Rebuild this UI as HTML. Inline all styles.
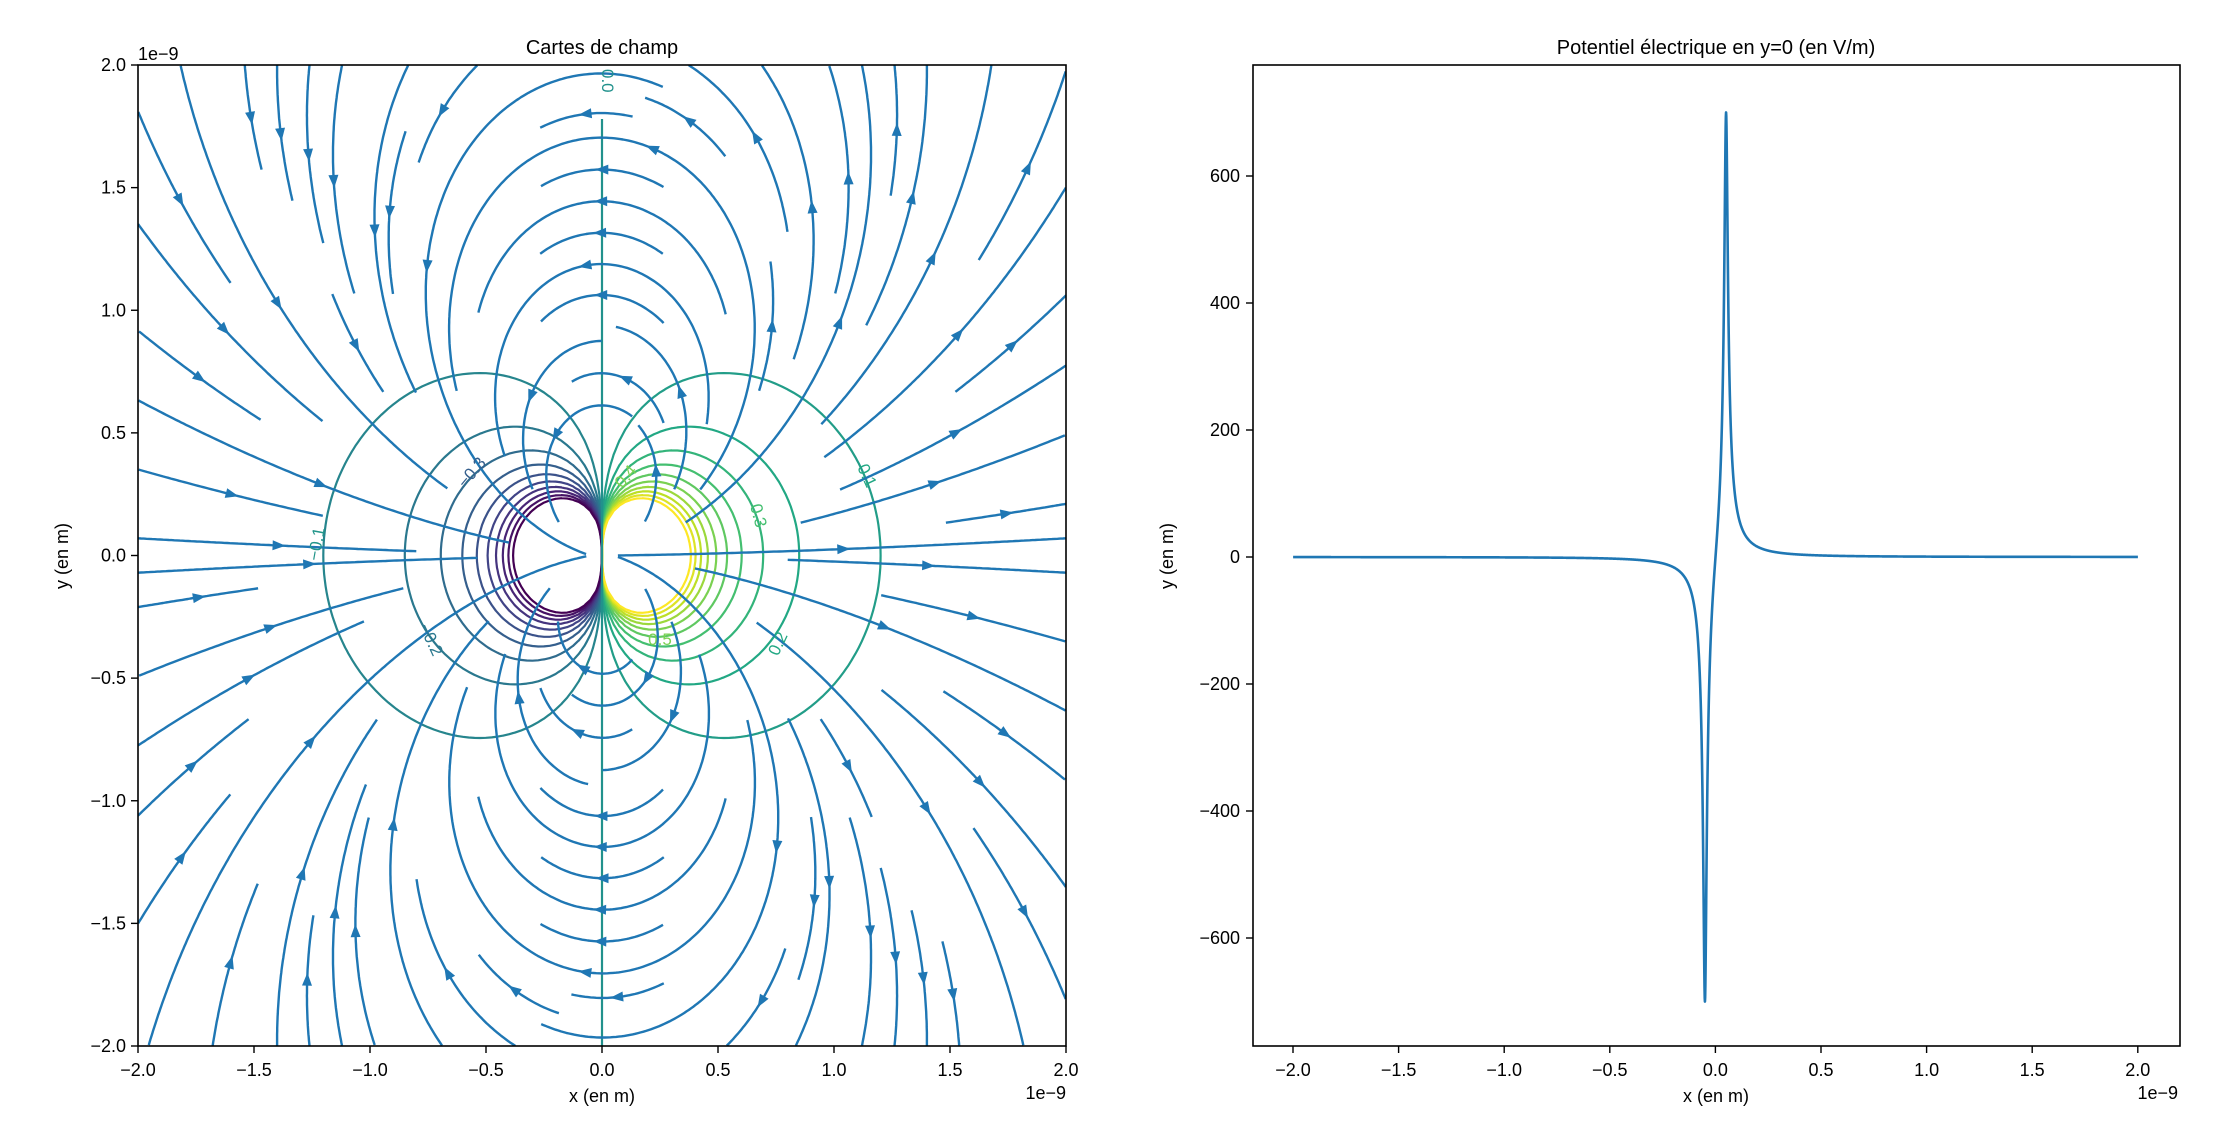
<!DOCTYPE html>
<html><head><meta charset="utf-8">
<style>
html,body{margin:0;padding:0;background:#fff;}
svg{display:block;font-family:"Liberation Sans","DejaVu Sans",sans-serif;}
</style></head>
<body>
<svg id="s" width="2237" height="1141" viewBox="0 0 2237 1141" xmlns="http://www.w3.org/2000/svg">
<rect width="2237" height="1141" fill="#fff"/>
<defs><clipPath id="c1"><rect x="138" y="65" width="928" height="981"/></clipPath>
<clipPath id="c2"><rect x="1253" y="65" width="927" height="981"/></clipPath></defs>
<g id="cont" clip-path="url(#c1)"></g>
<g id="strm" clip-path="url(#c1)"></g>
<g id="clab" font-size="17" fill="#22958a">
<text transform="translate(602,69) rotate(90)" font-size="17" fill="#21918c">0.0</text>
<text transform="translate(322,545) rotate(-80)" text-anchor="middle">−0.1</text>
<text transform="translate(862,478) rotate(65)" text-anchor="middle" fill="#22a884">0.1</text>
<text transform="translate(783,646) rotate(-65)" text-anchor="middle" fill="#22a884">0.2</text>
<text transform="translate(426,642) rotate(65)" text-anchor="middle" fill="#2a788e">−0.2</text>
<text transform="translate(476,476) rotate(-50)" text-anchor="middle" fill="#355f8d">−0.3</text>
<text transform="translate(753,517) rotate(75)" text-anchor="middle" fill="#44bf70">0.3</text>
<text transform="translate(630,480) rotate(-50)" text-anchor="middle" fill="#7ad151">0.4</text>
<text x="660" y="645" text-anchor="middle" fill="#7ad151">0.5</text>
</g>
<rect x="138" y="65" width="928" height="981" fill="none" stroke="#000" stroke-width="1.6"/>
<g id="ax1" font-size="18" fill="#000"></g>
<text x="602" y="54" font-size="20" text-anchor="middle">Cartes de champ</text>
<text x="602" y="1102" font-size="18" text-anchor="middle">x (en m)</text>
<text x="1066" y="1099" font-size="18" text-anchor="end">1e−9</text>
<text x="138" y="60" font-size="18">1e−9</text>
<text transform="translate(68,556) rotate(-90)" font-size="18" text-anchor="middle">y (en m)</text>

<g clip-path="url(#c2)"><path id="curve" fill="none" stroke="#1f77b4" stroke-width="2.6" stroke-linejoin="round"/></g>
<rect x="1253" y="65" width="927" height="981" fill="none" stroke="#000" stroke-width="1.6"/>
<g id="ax2" font-size="18" fill="#000"></g>
<text x="1716" y="54" font-size="20" text-anchor="middle">Potentiel électrique en y=0 (en V/m)</text>
<text x="1716" y="1102" font-size="18" text-anchor="middle">x (en m)</text>
<text x="2178" y="1099" font-size="18" text-anchor="end">1e−9</text>
<text transform="translate(1173,556) rotate(-90)" font-size="18" text-anchor="middle">y (en m)</text>
</svg>
<script>
(function(){
var NS="http://www.w3.org/2000/svg";
function el(t,a,p){var e=document.createElementNS(NS,t);for(var k in a)e.setAttribute(k,a[k]);if(p)p.appendChild(e);return e;}
function fmt(v){var s=v.toFixed(1);return v<0?"−"+s.slice(1):s;}
var YS=245.25,Y0=555.5;
var ax1=document.getElementById('ax1');
for(var i=0;i<=8;i++){var v=-2+i*0.5;
 var px=138+i*116; el('line',{x1:px,y1:1046,x2:px,y2:1053,stroke:'#000','stroke-width':1.4},ax1);
 var t=el('text',{x:px,y:1076,'text-anchor':'middle'},ax1);t.textContent=fmt(v);
 var py=1046-i*YS/2; el('line',{x1:131,y1:py,x2:138,y2:py,stroke:'#000','stroke-width':1.4},ax1);
 t=el('text',{x:126,y:py+6,'text-anchor':'end'},ax1);t.textContent=fmt(v);}
var ax2=document.getElementById('ax2');
for(i=0;i<=8;i++){v=-2+i*0.5;px=1293+i*105.6;
 el('line',{x1:px,y1:1046,x2:px,y2:1053,stroke:'#000','stroke-width':1.4},ax2);
 t=el('text',{x:px,y:1076,'text-anchor':'middle'},ax2);t.textContent=fmt(v);}
for(i=-3;i<=3;i++){v=i*200;py=557-v*0.635;
 el('line',{x1:1246,y1:py,x2:1253,y2:py,stroke:'#000','stroke-width':1.4},ax2);
 t=el('text',{x:1240,y:py+6,'text-anchor':'end'},ax2);t.textContent=(v<0?"−"+(-v):""+v);}
var k=6,d=0.05,e=6/760,pts=[];
for(i=0;i<=4000;i++){var x=-2+i*0.001;if(Math.abs(x-d)<0.0004)x=d;if(Math.abs(x+d)<0.0004)x=-d;
 var f=k*(1/Math.sqrt((x-d)*(x-d)+e*e)-1/Math.sqrt((x+d)*(x+d)+e*e));
 pts.push((1715.5+x*211.2).toFixed(2)+","+(557-f*0.635).toFixed(2));}
document.getElementById('curve').setAttribute('d',"M"+pts.join("L"));

var X=function(x){return 602+x*232;},Y=function(y){return Y0-y*YS;};
var K=1.44,D=0.05;
function V(x,y){return K*(1/Math.sqrt((x-D)*(x-D)+y*y)-1/Math.sqrt((x+D)*(x+D)+y*y));}
function E(x,y){var dx1=x-D,dx2=x+D,r1=Math.pow(dx1*dx1+y*y,1.5),r2=Math.pow(dx2*dx2+y*y,1.5);
 return [dx1/r1-dx2/r2, y/r1-y/r2];}
var vir=[[68,1,84],[72,36,117],[65,68,135],[53,95,141],[42,120,142],[33,145,140],[34,168,132],[68,191,112],[122,209,81],[189,223,38],[253,231,37]];
function col(t){t=Math.max(0,Math.min(1,t))*10;var i=Math.min(9,Math.floor(t)),f=t-i,a=vir[i],b=vir[i+1];
 return "rgb("+[0,1,2].map(function(j){return Math.round(a[j]+(b[j]-a[j])*f)}).join(",")+")";}
var n=160,h=4/n,G=[];
for(var j=0;j<=n;j++){G.push([]);for(i=0;i<=n;i++)G[j].push(V(-2+i*h+1e-4,-2+j*h+1e-4));}
var cont=document.getElementById('cont');
var levels=[];for(i=1;i<=10;i++){levels.push(-i/10);levels.push(i/10);}
levels.forEach(function(L){var dd=[];
 for(var j=0;j<n;j++)for(var i=0;i<n;i++){
  var a=G[j][i],b=G[j][i+1],c=G[j+1][i+1],e2=G[j+1][i];
  var x0=-2+i*h,y0=-2+j*h,P=[];
  function ip(v1,v2){return (L-v1)/(v2-v1);}
  if((a<L)!=(b<L))P.push([x0+h*ip(a,b),y0]);
  if((b<L)!=(c<L))P.push([x0+h,y0+h*ip(b,c)]);
  if((e2<L)!=(c<L))P.push([x0+h*ip(e2,c),y0+h]);
  if((a<L)!=(e2<L))P.push([x0,y0+h*ip(a,e2)]);
  for(var q=0;q+1<P.length;q+=2)dd.push("M"+X(P[q][0]).toFixed(1)+","+Y(P[q][1]).toFixed(1)+"L"+X(P[q+1][0]).toFixed(1)+","+Y(P[q+1][1]).toFixed(1));
 }
 el('path',{d:dd.join(""),fill:'none',stroke:col((L+1)/2),'stroke-width':2.2,'stroke-linecap':'round'},cont);
});
el('line',{x1:602,y1:Y(1.78),x2:602,y2:1046,stroke:col(0.5),'stroke-width':2.2},cont);

var N=30,cs=4/N,mask=[];for(j=0;j<N;j++){mask.push(new Array(N).fill(0));}
var strm=document.getElementById('strm');
function cell(x,y){return [Math.floor((x+2)/cs),Math.floor((y+2)/cs)];}
function integ(x,y,sgn,marked){var pts=[[x,y]],len=0,st=0.006,c0=cell(x,y);
 while(len<16){var f=E(x,y),m=Math.hypot(f[0],f[1]);if(!(m>0))break;
  x+=sgn*st*f[0]/m;y+=sgn*st*f[1]/m;len+=st;
  if(x<-2||x>2||y<-2||y>2)break;
  if(Math.hypot(x-D,y)<0.015||Math.hypot(x+D,y)<0.015)break;
  var c=cell(x,y);
  if(c[0]!=c0[0]||c[1]!=c0[1]){ if(mask[c[1]][c[0]])break; mask[c[1]][c[0]]=1;marked.push(c);c0=c;}
  pts.push([x,y]);}
 return pts;}
var seeds=[],xf=0,yf=0,xl=N-1,yl=N-1,xi=0,yi=0,dir='right';
for(i=0;i<N*N;i++){seeds.push([xi,yi]);
 if(dir=='right'){xi++;if(xi>=xl){yf++;dir='up';}}
 else if(dir=='up'){yi++;if(yi>=yl){xl--;dir='left';}}
 else if(dir=='left'){xi--;if(xi<=xf){yl--;dir='down';}}
 else {yi--;if(yi<=yf){xf++;dir='right';}}}
var paths=[],arrows=[];
seeds.forEach(function(s){if(mask[s[1]][s[0]])return;
 var x=-2+(s[0]+0.5)*cs,y=-2+(s[1]+0.5)*cs,marked=[s];mask[s[1]][s[0]]=1;
 var b=integ(x,y,-1,marked),f=integ(x,y,1,marked);
 var tr=b.reverse().concat(f.slice(1));
 var L=0;for(var q=1;q<tr.length;q++)L+=Math.hypot(tr[q][0]-tr[q-1][0],tr[q][1]-tr[q-1][1]);
 if(L<0.4){marked.forEach(function(c){mask[c[1]][c[0]]=0;});return;}
 var d=[];for(q=0;q<tr.length;q+=2)d.push(X(tr[q][0]).toFixed(1)+","+Y(tr[q][1]).toFixed(1));
 d.push(X(tr[tr.length-1][0]).toFixed(1)+","+Y(tr[tr.length-1][1]).toFixed(1));
 paths.push("M"+d.join("L"));
 var acc=0,mi=1;for(q=1;q<tr.length;q++){acc+=Math.hypot(tr[q][0]-tr[q-1][0],tr[q][1]-tr[q-1][1]);if(acc>=L/2){mi=q;break;}}
 var p0=tr[Math.max(0,mi-1)],p1=tr[Math.min(tr.length-1,mi+1)];
 var ax=X(p1[0])-X(p0[0]),ay=Y(p1[1])-Y(p0[1]),am=Math.hypot(ax,ay)||1;ax/=am;ay/=am;
 var cx=X(tr[mi][0]),cy=Y(tr[mi][1]);
 arrows.push("M"+(cx+ax*7).toFixed(1)+","+(cy+ay*7).toFixed(1)+"L"+(cx-ax*6+ay*5).toFixed(1)+","+(cy-ay*6-ax*5).toFixed(1)+"L"+(cx-ax*6-ay*5).toFixed(1)+","+(cy-ay*6+ax*5).toFixed(1)+"Z");
});
el('path',{d:paths.join(""),fill:'none',stroke:'#1f77b4','stroke-width':2.4,'stroke-linejoin':'round'},strm);
el('path',{d:arrows.join(""),fill:'#1f77b4',stroke:'none'},strm);
})();
</script>
</body></html>
